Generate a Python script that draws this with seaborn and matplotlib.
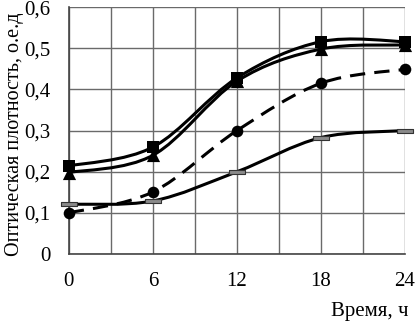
import numpy as np
import pandas as pd
import matplotlib
matplotlib.use("Agg")
import matplotlib.pyplot as plt
import seaborn as sns
from matplotlib.path import Path
from matplotlib.patches import PathPatch
from matplotlib.ticker import MultipleLocator, FuncFormatter

# ---- data ----
hours = [0, 6, 12, 18, 24]
series_square = [0.214, 0.26, 0.428, 0.516, 0.516]
series_triangle = [0.198, 0.24, 0.42, 0.498, 0.508]
series_circle = [0.10, 0.151, 0.30, 0.415, 0.449]
series_dash = [0.121, 0.129, 0.20, 0.283, 0.30]
x_ticks = [0, 6, 12, 18, 24]
y_ticks = [0, 0.1, 0.2, 0.3, 0.4, 0.5, 0.6]
x_label = "Время, ч"
y_label = "Оптическая плотность, о.е.д"

sns.set_theme(style="white")
plt.rcParams['font.family'] = ['Liberation Serif', 'DejaVu Serif']

fig = plt.figure(figsize=(4.15, 3.22), dpi=100)
ax = fig.add_axes([0.166, 0.211, 0.81, 0.767])


def smooth_path(xs, ys):
    pts = np.column_stack([xs, ys]).astype(float)
    n = len(pts)
    verts = [pts[0]]
    codes = [Path.MOVETO]
    for i in range(n - 1):
        p0 = pts[i - 1] if i > 0 else pts[i]
        p1 = pts[i]
        p2 = pts[i + 1]
        p3 = pts[i + 2] if i + 2 < n else pts[i + 1]
        c1 = p1 + (p2 - p0) / 6.0
        c2 = p2 - (p3 - p1) / 6.0
        verts += [c1, c2, p2]
        codes += [Path.CURVE4] * 3
    return Path(verts, codes)


styles = [
    (series_dash, '-'),
    (series_circle, (0, (5.0, 3.0))),
    (series_triangle, '-'),
    (series_square, '-'),
]

for ys, ls in styles:
    patch = PathPatch(smooth_path(hours, ys), fill=False, edgecolor='black',
                      lw=2.2, linestyle=ls, transform=ax.transData,
                      zorder=3, clip_on=False, capstyle='butt')
    ax.add_patch(patch)

rect = [(-1, -0.28), (1, -0.28), (1, 0.28), (-1, 0.28), (-1, -0.28)]
df_d = pd.DataFrame({'x': hours, 'y': series_dash})
df_c = pd.DataFrame({'x': hours, 'y': series_circle})
df_t = pd.DataFrame({'x': hours, 'y': series_triangle})
df_s = pd.DataFrame({'x': hours, 'y': series_square})

sns.scatterplot(data=df_d, x='x', y='y', marker=rect, s=120, color='#8a8a8a',
                edgecolor='#333333', linewidth=0.8, ax=ax, zorder=4, clip_on=False)
sns.scatterplot(data=df_c, x='x', y='y', marker='o', s=70, color='black',
                edgecolor='black', linewidth=0, ax=ax, zorder=4, clip_on=False)
sns.scatterplot(data=df_t, x='x', y='y', marker='^', s=90, color='black',
                edgecolor='black', linewidth=0, ax=ax, zorder=4, clip_on=False)
sns.scatterplot(data=df_s, x='x', y='y', marker='s', s=68, color='black',
                edgecolor='black', linewidth=0, ax=ax, zorder=5, clip_on=False)

ax.set_xlim(0, 24)
ax.set_ylim(0, 0.6)
ax.set_xticks(x_ticks)
ax.set_yticks(y_ticks)
ax.xaxis.set_minor_locator(MultipleLocator(3))
fmt = FuncFormatter(lambda v, p: ("%g" % round(v, 2)).replace('.', ','))
ax.yaxis.set_major_formatter(fmt)
ax.grid(which='major', axis='y', color='#6a6a6a', lw=1.0)
ax.grid(which='both', axis='x', color='#6a6a6a', lw=1.0)
ax.set_axisbelow(True)
for side in ['top', 'right']:
    ax.spines[side].set_visible(False)
for side in ['left', 'bottom']:
    ax.spines[side].set_color('#444444')
    ax.spines[side].set_linewidth(1.2)
ax.tick_params(axis='both', which='both', length=0, labelsize=15,
               colors='black', pad=13)
ax.tick_params(axis='y', pad=13.5)

ax.set_xlabel(x_label, fontsize=15, color='black')
ax.xaxis.set_label_coords(1.009, -0.251)
ax.xaxis.label.set_horizontalalignment('right')
ax.xaxis.label.set_verticalalignment('baseline')
ax.set_ylabel(y_label, fontsize=14.5, color='black')
ax.yaxis.label.set_verticalalignment('baseline')
ax.yaxis.set_label_coords(-0.149, 0.484)

fig.savefig('out.png', dpi=100)
